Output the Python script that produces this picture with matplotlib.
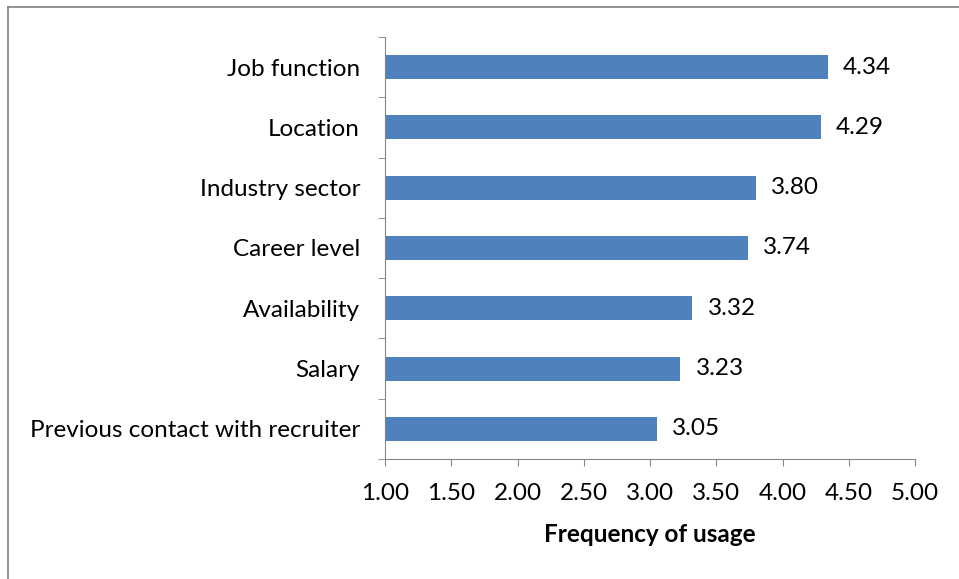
import matplotlib.pyplot as plt
from matplotlib.lines import Line2D

categories = ["Job function", "Location", "Industry sector", "Career level",
              "Availability", "Salary", "Previous contact with recruiter"]
values = [4.34, 4.29, 3.80, 3.74, 3.32, 3.23, 3.05]
xticks = [1.00, 1.50, 2.00, 2.50, 3.00, 3.50, 4.00, 4.50, 5.00]

plt.rcParams['font.family'] = ['Lato', 'DejaVu Sans']
fs = 17.5

fig = plt.figure(figsize=(9.59, 5.79), dpi=100)
ax = fig.add_axes([385/959, 1 - 459/579, 530/959, 422/579])

ypos = list(range(len(categories)))[::-1]
ax.barh(ypos, [v - 1 for v in values], left=1, height=0.4, color="#4F81BD")
for y, v in zip(ypos, values):
    ax.annotate("%.2f" % v, (v, y), xytext=(11, 0), textcoords="offset points",
                ha="left", va="center", fontsize=fs)

ax.set_xlim(1, 5)
ax.set_ylim(-0.5, len(categories) - 0.5)
ax.set_xticks(xticks)
ax.set_xticklabels(["%.2f" % t for t in xticks], fontsize=fs)
ax.set_yticks(ypos)
ax.set_yticklabels(categories, fontsize=fs)
ax.set_yticks([i - 0.5 for i in range(len(categories) + 1)], minor=True)
ax.tick_params(axis="y", which="major", length=0, pad=18)
ax.tick_params(axis="y", which="minor", length=5, color="#868686")
ax.tick_params(axis="x", length=5, color="#868686", pad=12)
for s in ["top", "right"]:
    ax.spines[s].set_visible(False)
for s in ["left", "bottom"]:
    ax.spines[s].set_color("#868686")
ax.set_xlabel("Frequency of usage", fontsize=fs, fontweight="bold", labelpad=14)

# outer chart frame
fig.add_artist(Line2D([8/959, 8/959], [0, 1 - 7/579], color="#7f7f7f", lw=1.2))
fig.add_artist(Line2D([8/959, 1], [1 - 7/579, 1 - 7/579], color="#7f7f7f", lw=1.2))

fig.savefig("out.png", dpi=100)
